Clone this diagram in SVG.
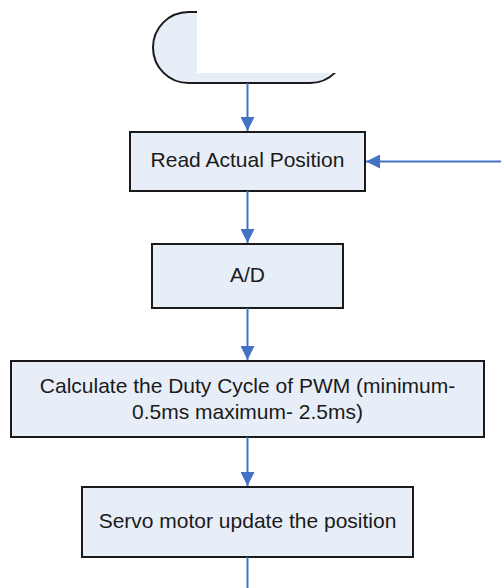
<svg xmlns="http://www.w3.org/2000/svg" width="501" height="588" viewBox="0 0 501 588">
<style>
.box{fill:#E8EEF8;stroke:#1a1a1a;stroke-width:2}
.lbl{font-family:"Liberation Sans",Arial,sans-serif;font-size:21px;fill:#1a1a1a;text-anchor:middle}
.con{stroke:#4472C4;stroke-width:2;fill:none}
</style>
<defs>
<marker id="ah" markerWidth="14" markerHeight="14" viewBox="0 0 14 14" refX="14" refY="7" orient="auto" markerUnits="userSpaceOnUse">
<path d="M0,0 L14,7 L0,14 Z" fill="#4472C4"/>
</marker>
</defs>
<g id="start">
<path class="box" d="M188.5,12 L310,12 A35.5,35.5 0 0 1 310,83 L188.5,83 A35.5,35.5 0 0 1 188.5,12 Z"/>
<rect x="197" y="0" width="304" height="73" fill="#ffffff"/>
</g>
<g id="read">
<rect class="box" x="130" y="132" width="235" height="59"/>
<text class="lbl" x="247.5" y="167">Read Actual Position</text>
</g>
<g id="ad">
<rect class="box" x="152" y="244" width="191" height="64"/>
<text class="lbl" x="247.5" y="282">A/D</text>
</g>
<g id="calc">
<rect class="box" x="11" y="361" width="473" height="76"/>
<text class="lbl" x="247.5" y="393">Calculate the Duty Cycle of PWM (minimum-</text>
<text class="lbl" x="247.5" y="419">0.5ms maximum- 2.5ms)</text>
</g>
<g id="servo">
<rect class="box" x="82" y="487" width="331" height="70"/>
<text class="lbl" x="247.5" y="528">Servo motor update the position</text>
</g>
<g id="connectors">
<line class="con" x1="247.5" y1="83" x2="247.5" y2="131" marker-end="url(#ah)"/>
<line class="con" x1="501" y1="161.5" x2="366" y2="161.5" marker-end="url(#ah)"/>
<line class="con" x1="247.5" y1="191" x2="247.5" y2="243" marker-end="url(#ah)"/>
<line class="con" x1="247.5" y1="308" x2="247.5" y2="360" marker-end="url(#ah)"/>
<line class="con" x1="247.5" y1="437" x2="247.5" y2="486" marker-end="url(#ah)"/>
<line class="con" x1="247.5" y1="557" x2="247.5" y2="588"/>
</g>
</svg>
